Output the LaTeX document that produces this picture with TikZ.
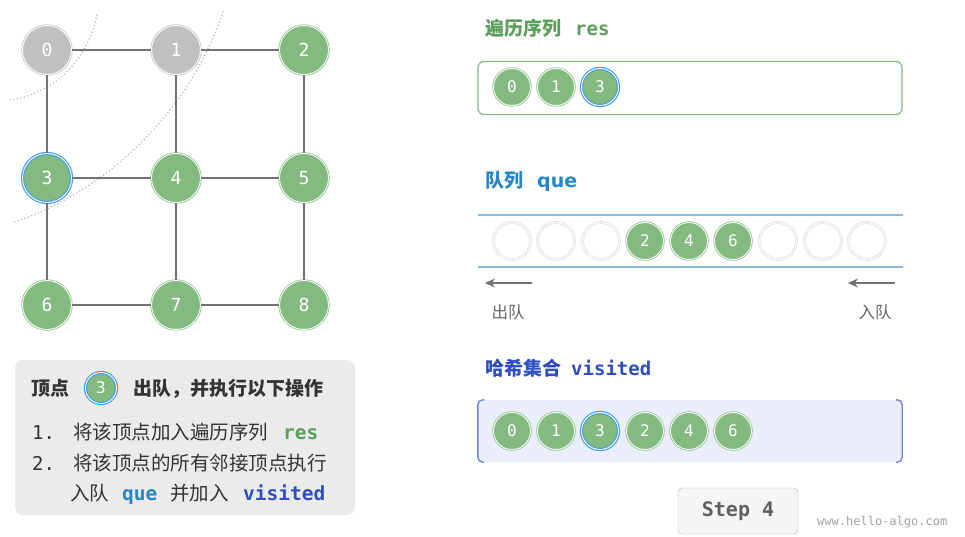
\documentclass[tikz,border=0pt]{standalone}
\usepackage{fontspec}
\setmainfont{Noto Sans CJK SC}
\setmonofont{DejaVu Sans Mono}
\newfontfamily\headsans{DejaVu Sans}
\usepackage{xcolor}
\usepackage{tikz}
\usetikzlibrary{positioning, arrows.meta}
\definecolor{vgreen}{HTML}{82BA7F}
\definecolor{vgray}{HTML}{C0C0C0}
\definecolor{vblue}{HTML}{4A9FE0}
\definecolor{resgreen}{HTML}{5E9E5C}
\definecolor{queblue}{HTML}{2587C8}
\definecolor{visblue}{HTML}{2F4FBE}
\definecolor{visfill}{HTML}{E9EEFA}
\definecolor{visedge}{HTML}{7088CF}
\definecolor{boxgray}{HTML}{EBEBEB}
\definecolor{txtdark}{HTML}{333333}
\definecolor{lineblue}{HTML}{8DBAE2}
\tikzset{
  vert/.style={circle, fill=vgreen, draw=vgreen, double=white, double distance=0.9pt,
               line width=0.7pt, minimum size=49pt, inner sep=0pt, text=white,
               font=\fontsize{18}{18}\selectfont\ttfamily},
  done/.style={vert, fill=vgray, draw=vgray},
  cur/.style={vert, draw=vblue, line width=1.2pt},
  small/.style={minimum size=37pt, font=\fontsize{16}{16}\selectfont\ttfamily},
  slot/.style={circle, draw=gray!40, dash pattern=on 1pt off 0.7pt, double=white,
               double distance=1.8pt, line width=0.5pt, minimum size=37pt, inner sep=0pt},
  edge/.style={draw=gray!90!black, line width=2.2pt},
  cjk/.style={font=\fontsize{19.5}{19.5}\selectfont, text=txtdark, anchor=west, inner sep=0pt,
              text height=17pt, text depth=2.5pt},
  head/.style={cjk, font=\fontsize{19}{19}\selectfont\bfseries},
  code/.style={cjk, font=\fontsize{19.5}{19.5}\selectfont\ttfamily\bfseries},
  arc/.style={gray!60, line width=1.6pt, line cap=round, dash pattern=on 0pt off 3.6pt},
  qarrow/.style={gray!90!black, line width=2.2pt, -{Stealth[length=10pt, width=9pt]}},
}

\begin{document}
\begin{tikzpicture}[x=1pt, y=-1pt]
  \useasboundingbox[fill=white] (0,0) rectangle (965,536);

  % frontier arcs
  \draw[arc] (97,15) .. controls (85,70) and (45,95) .. (10,100);
  \draw[arc] (223,12) .. controls (190,110) and (110,190) .. (12,223);

  % graph
  \node[done] (v0) at (47,50) {0};
  \node[done] (v1) at (176,50) {1};
  \node[vert] (v2) at (304,50) {2};
  \node[cur]  (v3) at (47,178) {3};
  \node[vert] (v4) at (176,178) {4};
  \node[vert] (v5) at (304,178) {5};
  \node[vert] (v6) at (47,305) {6};
  \node[vert] (v7) at (176,305) {7};
  \node[vert] (v8) at (304,305) {8};
  \foreach \a/\b in {0/1, 1/2, 3/4, 4/5, 6/7, 7/8, 0/3, 3/6, 1/4, 4/7, 2/5, 5/8}
    \draw[edge] (v\a) -- (v\b);

  % operation box
  \node[fill=boxgray, rounded corners=8pt, minimum width=340pt, minimum height=155pt,
        inner sep=0pt] (opbox) at (185,437.5) {};
  \node[head, text=txtdark] (op1) at (31,388) {顶点};
  \node[cur, small, minimum size=31pt] (opv) at (101,388) {3};
  \node[head, text=txtdark] (op2) at (133,388) {出队，并执行以下操作};
  \node[cjk, font=\fontsize{19}{19}\selectfont\ttfamily] (n1) at (32,432) {1.};
  \node[cjk] (s1) at (73,432) {将该顶点加入遍历序列};
  \node[code, text=resgreen] (s1c) at (283,432) {res};
  \node[cjk, font=\fontsize{19}{19}\selectfont\ttfamily] (n2) at (32,463) {2.};
  \node[cjk] (s2) at (73,463) {将该顶点的所有邻接顶点执行};
  \node[cjk] (s3) at (70,493) {入队};
  \node[code, text=queblue] (s3a) at (122,493) {que};
  \node[cjk] (s3b) at (170,493) {并加入};
  \node[code, text=visblue] (s3c) at (243,493) {visited};

  % res
  \node[head, text=resgreen] (reshead) at (485,28) {遍历序列\hspace{14pt}{\ttfamily res}};
  \node[draw=vgreen, line width=1.2pt, rounded corners=6pt, minimum width=424pt,
        minimum height=53pt, inner sep=0pt] (resbox) at (690,88) {};
  \node[vert, small] (res0) at (512,87) {0};
  \node[vert, small] (res1) at (556,87) {1};
  \node[cur, small]  (res2) at (600,87) {3};

  % queue
  \node[head, text=queblue] (quehead) at (485,180) {队列\hspace{14pt}{\headsans que}};
  \coordinate (qtl) at (478,215);
  \coordinate (qtr) at (903,215);
  \coordinate (qbl) at (478,267);
  \coordinate (qbr) at (903,267);
  \draw[lineblue, line width=1.2pt] (qtl) -- (qtr);
  \draw[lineblue, line width=1.2pt] (qbl) -- (qbr);
  \foreach \i/\x in {1/512, 2/556, 3/601, 7/778, 8/823, 9/867}
    \node[slot] (q\i) at (\x,241) {};
  \node[vert, small] (q4) at (645,241) {2};
  \node[vert, small] (q5) at (689,241) {4};
  \node[vert, small] (q6) at (733,241) {6};
  \coordinate (outs) at (532,283);
  \coordinate (oute) at (485,283);
  \coordinate (ins) at (895,283);
  \coordinate (ine) at (848,283);
  \draw[qarrow] (outs) -- (oute);
  \draw[qarrow] (ins) -- (ine);
  \node[font=\fontsize{16.5}{16.5}\selectfont, text=gray!80!black] (outlbl) at (508,312) {出队};
  \node[font=\fontsize{16.5}{16.5}\selectfont, text=gray!80!black] (inlbl) at (875,312) {入队};

  % visited
  \node[head, text=visblue] (vishead) at (485,368) {哈希集合\hspace{10pt}{\ttfamily visited}};
  \node[fill=visfill, minimum width=424pt, minimum height=62pt, inner sep=0pt] (visbox) at (690,431) {};
  \draw[visedge, line width=1.4pt, rounded corners=5pt]
    (visbox.north west) ++(6,0) -- (visbox.north west) -- (visbox.south west) -- ++(6,0);
  \draw[visedge, line width=1.4pt, rounded corners=5pt]
    (visbox.north east) ++(-6,0) -- (visbox.north east) -- (visbox.south east) -- ++(-6,0);
  \node[vert, small] (vis0) at (512,431) {0};
  \node[vert, small] (vis1) at (556,431) {1};
  \node[cur, small]  (vis2) at (600,431) {3};
  \node[vert, small] (vis3) at (645,431) {2};
  \node[vert, small] (vis4) at (689,431) {4};
  \node[vert, small] (vis5) at (733,431) {6};

  % step
  \node[draw=gray!60, fill=gray!8, rounded corners=4pt, minimum width=120pt,
        minimum height=46pt, inner sep=0pt, text=gray!75!black,
        font=\fontsize{20}{20}\selectfont\ttfamily\bfseries] (step) at (738,511) {Step 4};
  \node[anchor=west, inner sep=0pt, text=gray!75, font=\fontsize{12}{12}\selectfont\ttfamily]
    (url) at (817,522) {www.hello-algo.com};
\end{tikzpicture}
\end{document}
